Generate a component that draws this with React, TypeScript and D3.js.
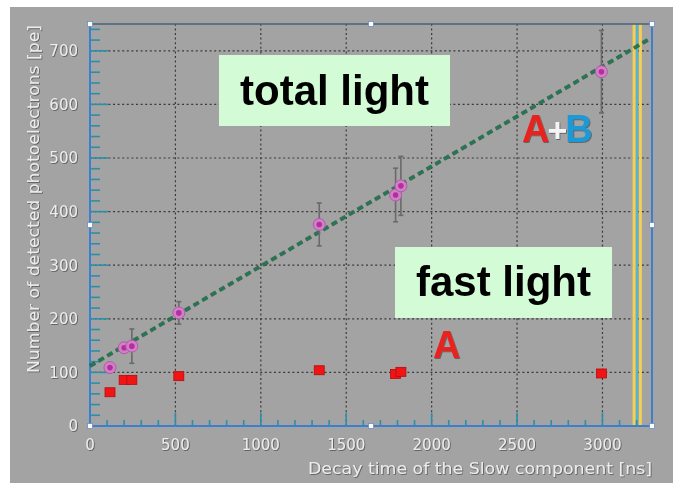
import React, { useEffect, useRef } from "react";
import * as d3 from "d3";

// decay time of the slow component [ns]
const decayTimes = [117, 200, 245, 520, 1342, 1789, 1820, 2994];
// total light (A+B) [pe]
const totalLight = [109, 146, 149, 211, 376, 431, 448, 661];
const totalErr = [0, 0, 32, 21, 40, 50, 55, 77];
// fast light (A) [pe]
const fastLight = [63, 86, 86, 93, 104, 97, 101, 98];
const fastErr = [0, 0, 0, 0, 8, 5, 5, 5];

const fitLine: [number, number][] = [
  [0, 112],
  [3270, 721],
];

const xTicks = [0, 500, 1000, 1500, 2000, 2500, 3000];
const yTicks = [0, 100, 200, 300, 400, 500, 600, 700];
const yellowMarks = [3185, 3222];
const cyanMark = 3203;

const W = 673;
const H = 483;

const App = () => {
  const svgRef = useRef<SVGSVGElement>(null);

  useEffect(() => {
    if (!svgRef.current) return;
    const svg = d3.select(svgRef.current);
    svg.selectAll("*").remove();

    const x = d3.scaleLinear().domain([0, 3290]).range([90, 652]);
    const y = d3.scaleLinear().domain([0, 750]).range([426, 24]);
    const [x0, x1] = x.range();
    const [y0, y1] = y.range();

    // page background
    svg.append("rect").attr("width", W).attr("height", H).attr("fill", "#fff");
    svg.append("rect").attr("x", 10).attr("y", 7).attr("width", W - 10).attr("height", H - 7).attr("fill", "#a3a3a3");

    const defs = svg.append("defs");
    const sh = defs.append("filter").attr("id", "shadow").attr("x", "-10%").attr("y", "-10%").attr("width", "120%").attr("height", "130%");
    sh.append("feDropShadow").attr("dx", 0.8).attr("dy", 0.8).attr("stdDeviation", 0.4).attr("flood-color", "#555");

    // grid
    const grid = svg.append("g").attr("stroke", "#3a3a3a").attr("stroke-width", 1.2).attr("stroke-dasharray", "2,2.6");
    xTicks.filter(t => t > 0).forEach(t => {
      grid.append("line").attr("x1", x(t)).attr("x2", x(t)).attr("y1", y0).attr("y2", y1);
    });
    yTicks.filter(t => t > 0).forEach(t => {
      grid.append("line").attr("x1", x0).attr("x2", x1).attr("y1", y(t)).attr("y2", y(t));
    });

    // yellow / cyan vertical marks
    yellowMarks.forEach(v => {
      svg.append("line").attr("x1", x(v)).attr("x2", x(v)).attr("y1", y1).attr("y2", y0)
        .attr("stroke", "#f2cf55").attr("stroke-width", 3);
    });
    svg.append("line").attr("x1", x(cyanMark)).attr("x2", x(cyanMark)).attr("y1", y1).attr("y2", y0)
      .attr("stroke", "#4cb8d8").attr("stroke-width", 2);

    // frame
    svg.append("line").attr("x1", x0).attr("x2", x1).attr("y1", y1).attr("y2", y1).attr("stroke", "#45627e").attr("stroke-width", 1.5);
    svg.append("line").attr("x1", x1).attr("x2", x1).attr("y1", y1).attr("y2", y0).attr("stroke", "#3c7fd0").attr("stroke-width", 2);

    // ticks
    const ticks = svg.append("g").attr("stroke", "#2a8fa8").attr("stroke-width", 1.6);
    d3.range(0, 760, 20).forEach(v => {
      if (v > 750) return;
      const major = v % 100 === 0;
      ticks.append("line").attr("x1", x0).attr("x2", x0 + (major ? 18 : 10)).attr("y1", y(v)).attr("y2", y(v));
    });
    d3.range(0, 3300, 100).forEach(v => {
      const major = v % 500 === 0;
      ticks.append("line").attr("x1", x(v)).attr("x2", x(v)).attr("y1", y0).attr("y2", y0 - (major ? 13 : 6));
    });

    // axes lines
    svg.append("line").attr("x1", x0).attr("x2", x0).attr("y1", y1).attr("y2", y0).attr("stroke", "#3c7fd0").attr("stroke-width", 2);
    svg.append("line").attr("x1", x0).attr("x2", x1).attr("y1", y0).attr("y2", y0).attr("stroke", "#3c7fd0").attr("stroke-width", 2);

    // tick labels
    const lab = svg.append("g").attr("font-family", "DejaVu Sans").attr("font-size", 15).attr("fill", "#ececec").attr("filter", "url(#shadow)");
    yTicks.forEach(t => {
      lab.append("text").attr("x", 78).attr("y", y(t)).attr("dy", "0.36em").attr("text-anchor", "end").text(t);
    });
    xTicks.forEach(t => {
      lab.append("text").attr("x", x(t)).attr("y", 450).attr("text-anchor", "middle").text(t);
    });
    lab.append("text").attr("x", 652).attr("y", 474).attr("text-anchor", "end").attr("font-size", 16.5)
      .attr("textLength", 344).attr("lengthAdjust", "spacingAndGlyphs").text("Decay time of the Slow component [ns]");
    lab.append("text").attr("transform", "rotate(-90)").attr("x", -25).attr("y", 39).attr("text-anchor", "end").attr("font-size", 16.5)
      .attr("textLength", 348).attr("lengthAdjust", "spacingAndGlyphs").text("Number of detected photoelectrons [pe]");

    // fit line
    const line = d3.line<[number, number]>().x(d => x(d[0])).y(d => y(d[1]));
    svg.append("path").attr("d", line(fitLine)).attr("stroke", "#1c3a2c").attr("stroke-width", 4)
      .attr("stroke-dasharray", "6,4").attr("fill", "none").attr("opacity", 0.6);
    svg.append("path").attr("d", line(fitLine)).attr("stroke", "#1f7a52").attr("stroke-width", 2.6)
      .attr("stroke-dasharray", "6,4").attr("fill", "none");

    // error bars total light
    const eb = svg.append("g").attr("stroke", "#6a6a6a").attr("stroke-width", 1.6);
    decayTimes.forEach((t, i) => {
      const e = totalErr[i];
      if (!e) return;
      const cx = x(t);
      eb.append("line").attr("x1", cx).attr("x2", cx).attr("y1", y(totalLight[i] - e)).attr("y2", y(totalLight[i] + e));
      [totalLight[i] - e, totalLight[i] + e].forEach(v => {
        eb.append("line").attr("x1", cx - 2.5).attr("x2", cx + 2.5).attr("y1", y(v)).attr("y2", y(v));
      });
    });
    decayTimes.forEach((t, i) => {
      const e = fastErr[i];
      if (!e) return;
      const cx = x(t);
      eb.append("line").attr("x1", cx).attr("x2", cx).attr("y1", y(fastLight[i] - e)).attr("y2", y(fastLight[i] + e));
    });

    // total light markers
    decayTimes.forEach((t, i) => {
      svg.append("circle").attr("cx", x(t)).attr("cy", y(totalLight[i])).attr("r", 6)
        .attr("fill", "#d27fc8").attr("stroke", "#b05aa8").attr("stroke-width", 1);
      svg.append("circle").attr("cx", x(t)).attr("cy", y(totalLight[i])).attr("r", 2.8).attr("fill", "#b2309e");
    });

    // fast light markers
    decayTimes.forEach((t, i) => {
      svg.append("rect").attr("x", x(t) - 5).attr("y", y(fastLight[i]) - 4.5).attr("width", 10).attr("height", 9)
        .attr("fill", "#f01414").attr("stroke", "#b80c0c").attr("stroke-width", 0.8);
    });

    // label boxes
    const boxes = [
      { x: 219, y: 55, w: 231, h: 71, text: "total light", tx: 334.5, ty: 105 },
      { x: 395, y: 247, w: 217, h: 71, text: "fast light", tx: 503.5, ty: 296 },
    ];
    boxes.forEach(b => {
      svg.append("rect").attr("x", b.x).attr("y", b.y).attr("width", b.w).attr("height", b.h).attr("fill", "#d3fbd6");
      svg.append("text").attr("x", b.tx).attr("y", b.ty).attr("text-anchor", "middle")
        .attr("font-family", "Liberation Sans, Arial, sans-serif").attr("font-weight", "bold").attr("font-size", 42)
        .attr("fill", "#000").text(b.text);
    });

    // A+B and A
    const ab = svg.append("text").attr("x", 522).attr("y", 142).attr("font-family", "Liberation Sans, Arial, sans-serif")
      .attr("font-weight", "bold").attr("font-size", 38).attr("letter-spacing", -2).attr("filter", "url(#shadow)");
    ab.append("tspan").attr("fill", "#e8221c").text("A");
    ab.append("tspan").attr("fill", "#f4f4f4").attr("font-size", 34).text("+");
    ab.append("tspan").attr("fill", "#1a9ad6").text("B");
    svg.append("text").attr("x", 433).attr("y", 358).attr("font-family", "Liberation Sans, Arial, sans-serif")
      .attr("font-weight", "bold").attr("font-size", 38).attr("fill", "#e8221c").attr("filter", "url(#shadow)").text("A");

    // selection handles
    const hx = [x0, (x0 + x1) / 2, x1];
    const hy = [y1, (y0 + y1) / 2, y0];
    hx.forEach((px, i) => hy.forEach((py, j) => {
      if (i === 1 && j === 1) return;
      svg.append("rect").attr("x", px - 2.5).attr("y", py - 2.5).attr("width", 5).attr("height", 5)
        .attr("fill", "#fff").attr("stroke", "#6a8fc0").attr("stroke-width", 0.8);
    }));
  }, []);

  return (
    <svg ref={svgRef} width={W} height={H} style={{ position: "absolute", left: 0, top: 0 }} />
  );
};

export default App;
